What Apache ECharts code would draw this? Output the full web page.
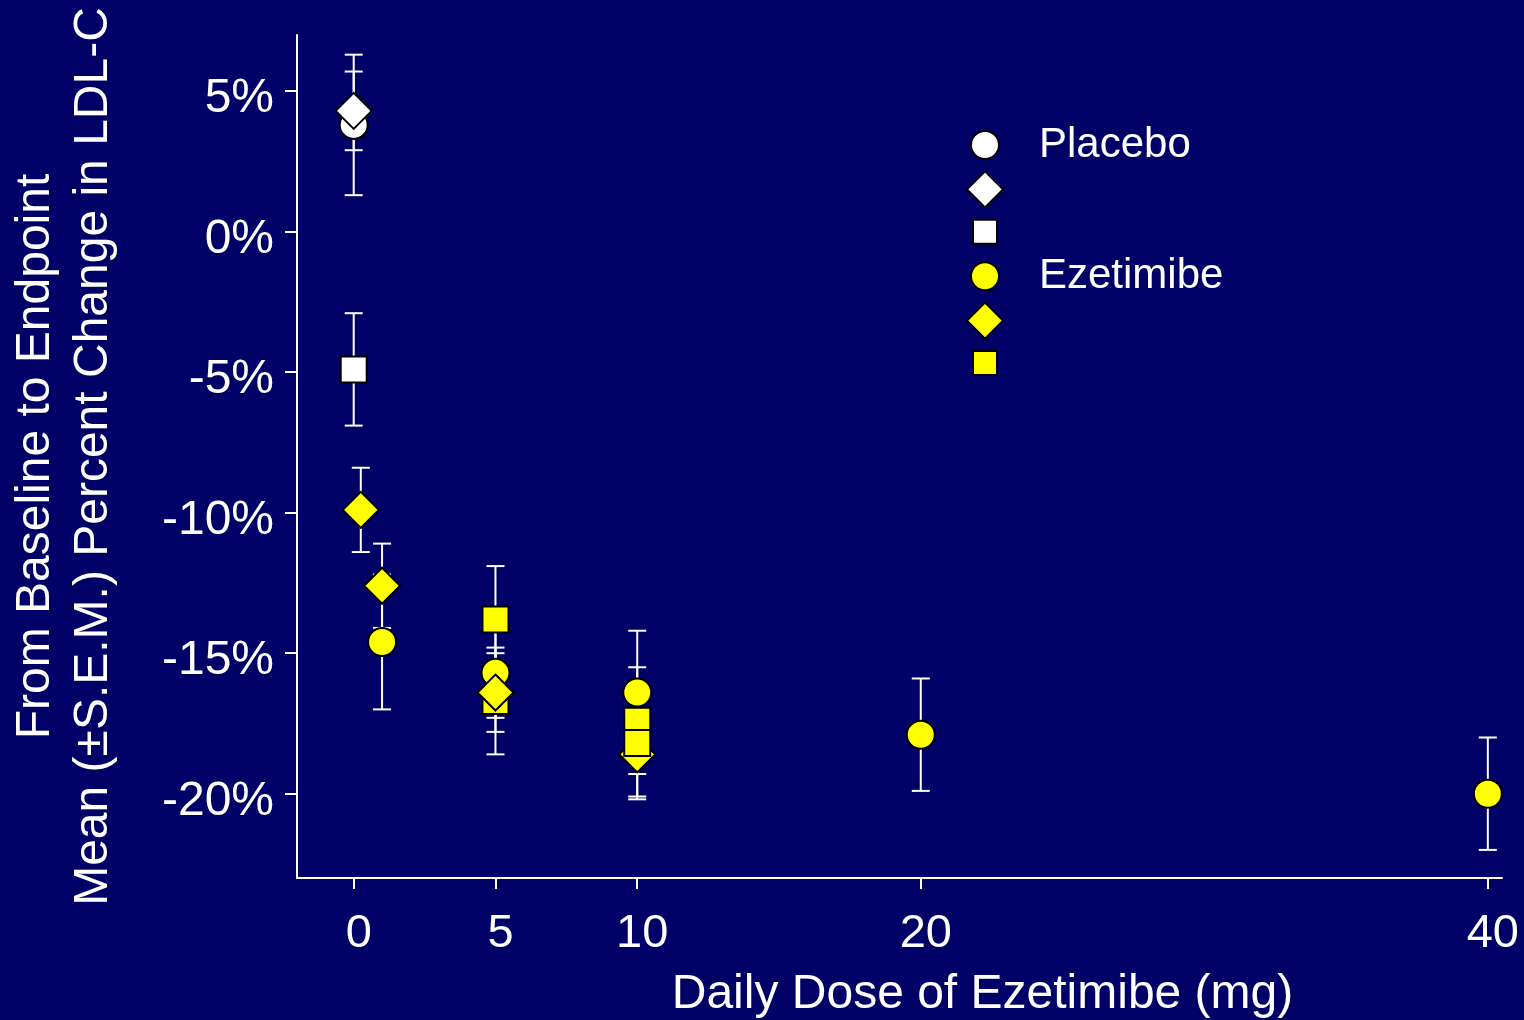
<!DOCTYPE html>
<html>
<head>
<meta charset="utf-8">
<title>Ezetimibe dose response</title>
<script src="https://cdn.jsdelivr.net/npm/echarts@6/dist/echarts.min.js"></script>
<style>
  html, body { margin: 0; padding: 0; background: #000066; }
  #chart { width: 1524px; height: 1020px; }
</style>
</head>
<body>
<div id="chart"></div>
<script>
// each point: [daily dose (mg), mean % change, s.e.m.]
const placeboCircle = [[0, 3.8, 2.5]]
const placeboDiamond = [[0, 4.3, 1.4]]
const placeboSquare = [[0, -4.9, 2.0]]
const ezeCircle = [[1, -14.6, 2.4], [5, -15.7, 1.6], [10, -16.4, 2.2], [20, -17.9, 2.0], [40, -20.0, 2.0]]
const ezeDiamond = [[0.25, -9.9, 1.5], [1, -12.6, 1.5], [5, -16.4, 1.4], [10, -18.6, 1.5]]
const ezeSquareA = [[5, -16.7, 1.9], [10, -17.4, 1.9]]
const ezeSquareB = [[5, -13.8, 1.9], [10, -18.2, 2.0]]

const xTicks = [0, 5, 10, 20, 40]
const yTicks = [-20, -15, -10, -5, 0, 5]

const FONT = '"Liberation Sans", Arial, Helvetica, sans-serif'
const WHITE = '#ffffff'
const YELLOW = '#ffff00'

const chart = echarts.init(document.getElementById('chart'))

// markers, in drawing order (later ones sit on top)
const groups = [
  { name: 'Placebo', data: placeboCircle, symbol: 'circle', size: 28, color: WHITE },
  { name: 'Placebo-diamond', data: placeboDiamond, symbol: 'diamond', size: 36, color: WHITE },
  { name: 'Placebo-square', data: placeboSquare, symbol: 'rect', size: 26, color: WHITE },
  { name: 'Ezetimibe', data: ezeCircle, symbol: 'circle', size: 28, color: YELLOW },
  { name: 'Ezetimibe-square', data: ezeSquareA, symbol: 'rect', size: 26, color: YELLOW },
  { name: 'Ezetimibe-diamond', data: ezeDiamond, symbol: 'diamond', size: 36, color: YELLOW },
  { name: 'Ezetimibe-square', data: ezeSquareB, symbol: 'rect', size: 26, color: YELLOW }
]

const errData = []
groups.forEach(g => g.data.forEach(p => errData.push([p[0], p[1] - p[2], p[1] + p[2]])))

function renderErr(params, api) {
  const x = api.value(0)
  const lo = api.coord([x, api.value(1)])
  const hi = api.coord([x, api.value(2)])
  const w = 9
  const st = { stroke: WHITE, lineWidth: 2 }
  return {
    type: 'group',
    children: [
      { type: 'line', shape: { x1: lo[0], y1: lo[1], x2: hi[0], y2: hi[1] }, style: st },
      { type: 'line', shape: { x1: lo[0] - w, y1: lo[1], x2: lo[0] + w, y2: lo[1] }, style: st },
      { type: 'line', shape: { x1: hi[0] - w, y1: hi[1], x2: hi[0] + w, y2: hi[1] }, style: st }
    ]
  }
}

const series = [
  {
    type: 'custom',
    name: 'sem',
    renderItem: renderErr,
    encode: { x: 0, y: [1, 2] },
    data: errData,
    z: 1,
    silent: true
  }
]
groups.forEach((g, i) => {
  series.push({
    type: 'scatter',
    name: g.name,
    symbol: g.symbol,
    symbolSize: g.size,
    data: g.data.map(p => [p[0], p[1]]),
    itemStyle: { color: g.color, borderColor: '#000', borderWidth: 2, opacity: 1 },
    z: 2 + i
  })
})

// legend icons live in a 36x36 box; the lone M points pin the box size
const ICON_CIRCLE = 'path://M0,0M36,36M4,18A14,14,0,1,1,32,18A14,14,0,1,1,4,18Z'
const ICON_DIAMOND = 'path://M18,0L36,18L18,36L0,18Z'
const ICON_SQUARE = 'path://M0,0M36,36M6,6L30,6L30,30L6,30Z'

const legendItems = [
  { name: 'Placebo', icon: ICON_CIRCLE, color: WHITE },
  { name: 'Placebo-diamond', icon: ICON_DIAMOND, color: WHITE },
  { name: 'Placebo-square', icon: ICON_SQUARE, color: WHITE },
  { name: 'Ezetimibe', icon: ICON_CIRCLE, color: YELLOW },
  { name: 'Ezetimibe-diamond', icon: ICON_DIAMOND, color: YELLOW },
  { name: 'Ezetimibe-square', icon: ICON_SQUARE, color: YELLOW }
]

const option = {
  backgroundColor: '#000066',
  animation: false,
  textStyle: { fontFamily: FONT },
  grid: { left: 297, right: 22, top: 35, bottom: 142, outerBoundsMode: 'none' },
  legend: {
    orient: 'vertical',
    left: 966,
    top: 124,
    padding: 0,
    itemWidth: 36,
    itemHeight: 36,
    itemGap: 4.4,
    selectedMode: false,
    data: legendItems.map(d => ({
      name: d.name,
      icon: d.icon,
      itemStyle: { color: d.color, borderColor: '#000', borderWidth: 2 }
    })),
    formatter: name => (name.indexOf('-') < 0 ? name : ''),
    textStyle: {
      color: WHITE,
      fontSize: 42,
      lineHeight: 28,
      fontFamily: FONT,
      padding: [8, 0, 0, 31]
    }
  },
  xAxis: {
    type: 'value',
    min: -2,
    max: 40.5,
    name: 'Daily Dose of Ezetimibe (mg)',
    nameLocation: 'middle',
    nameGap: 93,
    nameTextStyle: { color: WHITE, fontSize: 48, fontFamily: FONT, padding: [0, 0, 0, 166] },
    axisLine: { onZero: false, lineStyle: { color: WHITE, width: 2 } },
    axisTick: { customValues: xTicks, length: 11, lineStyle: { color: WHITE, width: 2 } },
    axisLabel: {
      customValues: xTicks,
      color: WHITE,
      fontSize: 47,
      fontFamily: FONT,
      margin: 33,
      formatter: v => '{a|' + v + '}',
      rich: { a: { color: WHITE, fontSize: 47, fontFamily: FONT, padding: [0, 0, 0, 10] } }
    },
    splitLine: { show: false }
  },
  yAxis: {
    type: 'value',
    min: -23,
    max: 7,
    name: 'From Baseline to Endpoint\nMean (±S.E.M.) Percent Change in LDL-C',
    nameLocation: 'middle',
    nameGap: 174,
    nameTextStyle: { color: WHITE, fontSize: 48, lineHeight: 58, fontFamily: FONT },
    axisLine: { onZero: false, lineStyle: { color: WHITE, width: 2 } },
    axisTick: { customValues: yTicks, length: 12, lineStyle: { color: WHITE, width: 2 } },
    axisLabel: {
      customValues: yTicks,
      color: WHITE,
      fontSize: 48,
      fontFamily: FONT,
      margin: 23,
      formatter: v => '{a|' + v + '%}',
      rich: { a: { color: WHITE, fontSize: 48, fontFamily: FONT, padding: [16, 0, 0, 0] } }
    },
    splitLine: { show: false }
  },
  series: series
}

chart.setOption(option)
</script>
</body>
</html>
